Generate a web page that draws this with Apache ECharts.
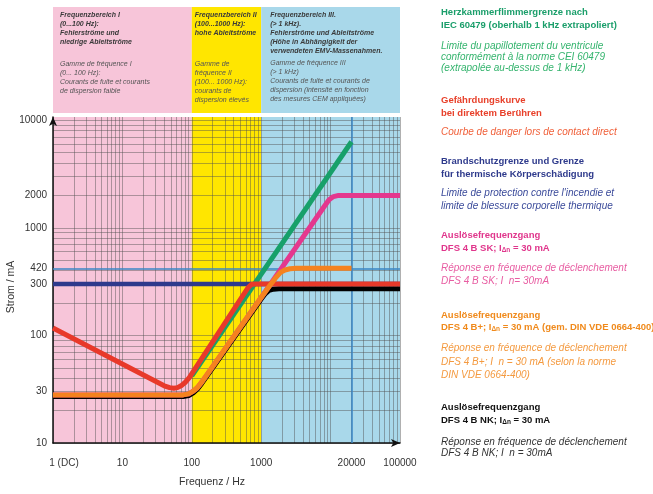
<!DOCTYPE html>
<html><head><meta charset="utf-8">
<script src="https://cdn.jsdelivr.net/npm/echarts@6/dist/echarts.min.js"></script>
<style>html,body{margin:0;padding:0;background:#fff}#c{width:653px;height:494px}</style>
</head><body><div id="c"></div>
<script>
// ---------- data ----------
const freqTicks = [1, 10, 100, 1000, 20000, 100000];
const freqTickLabels = ['1 (DC)', '10', '100', '1000', '20000', '100000'];
const currentTicks = [10, 30, 100, 300, 420, 1000, 2000, 10000];
const bandEdges = [1, 100, 1000, 100000];
const refCurrent = 420;
const refFreq = 20000;

const fibrillation = [[100, 42], [20000, 6300]];
const danger = [[1, 117], [40, 34], [48, 32.7], [55, 32.3], [62, 32.7], [70, 34], [80, 36.5], [92, 40.5], [640, 275], [720, 297], [800, 300], [100000, 300]];
const fireLimit = [[1, 300], [100000, 300]];
const dfsSK = [[1, 28], [75, 28], [90, 28.6], [105, 30.3], [120, 32.6], [140, 37], [1000, 225], [8000, 1560], [9500, 1820], [11000, 1950], [13000, 2000], [100000, 2000]];
const dfsBplus = [[1, 28], [75, 28], [90, 28.6], [105, 30.3], [120, 32.6], [140, 37], [1000, 225], [1300, 285], [1600, 340], [1900, 385], [2200, 405], [2600, 416], [3200, 420], [20000, 420]];
const dfsNK = [[1, 27], [75, 27], [90, 27.6], [105, 29.3], [120, 31.6], [140, 36], [1000, 218], [1150, 245], [1300, 262], [1500, 269], [1800, 271], [100000, 271]];

const bandColors = ['#f7c5d9', '#ffe600', '#a9d8ea'];
const headerTexts = [
  { bold: ['Frequenzbereich I', '(0...100 Hz):', 'Fehlerströme und', 'niedrige Ableitströme'], gap: 'g1',
    ital: ['Gamme de fréquence I', '(0... 100 Hz):', 'Courants de fuite et courants', 'de dispersion faible'], pad: [4, 0, 0, 7] },
  { bold: ['Frequenzbereich II', '(100...1000 Hz):', 'hohe Ableitströme'], gap: 'g2',
    ital: ['Gamme de', 'fréquence II', '(100... 1000 Hz):', 'courants de', 'dispersion élevés'], pad: [4, 0, 0, 3] },
  { bold: ['Frequenzbereich III.', '(> 1 kHz).', 'Fehlerströme und Ableitströme', '(Höhe in Abhängigkeit der', 'verwendeten EMV-Massenahmen.'], gap: 'g3',
    ital: ['Gamme de fréquence III', '(> 1 kHz)', 'Courants de fuite et courants de', 'dispersion (intensité en fonction', 'des mesures CEM appliquées)'], pad: [4, 0, 0, 9] }
];

// legend text lines: [rich text, y, color]
const legendLines = [
  ['{b|Herzkammerflimmergrenze nach}', 12, '#1a9e6a'],
  ['{b|IEC 60479 (oberhalb 1 kHz extrapoliert)}', 25, '#1a9e6a'],
  ['{i|Limite du papillotement du ventricule}', 46, '#35b46e'],
  ['{i|conformément à la norme CEI 60479}', 57, '#35b46e'],
  ['{i|(extrapolée au-dessus de 1 kHz)}', 68, '#35b46e'],
  ['{b|Gefährdungskurve}', 100, '#e8402a'],
  ['{b|bei direktem Berühren}', 113, '#e8402a'],
  ['{i|Courbe de danger lors de contact direct}', 132, '#f0603a'],
  ['{b|Brandschutzgrenze und Grenze}', 161, '#2e3a8c'],
  ['{b|für thermische Körperschädigung}', 174, '#2e3a8c'],
  ['{i|Limite de protection contre l\'incendie et}', 193, '#3a4a9a'],
  ['{i|limite de blessure corporelle thermique}', 206, '#3a4a9a'],
  ['{b|Auslösefrequenzgang}', 235, '#e0368c'],
  ['{b|DFS 4 B SK; I}{s|Δn}{b| = 30 mA}', 248, '#e0368c'],
  ['{i|Réponse en fréquence de déclenchement}', 268, '#e85da2'],
  ['{i|DFS 4 B SK; I  n= 30mA}', 281, '#e85da2'],
  ['{b|Auslösefrequenzgang}', 315, '#f08a1c'],
  ['{b|DFS 4 B+; I}{s|Δn}{b| = 30 mA (gem. DIN VDE 0664-400)}', 327, '#f08a1c'],
  ['{i|Réponse en fréquence de déclenchement}', 348, '#f49a40'],
  ['{i|DFS 4 B+; I  n = 30 mA (selon la norme}', 362, '#f49a40'],
  ['{i|DIN VDE 0664-400)}', 375, '#f49a40'],
  ['{b|Auslösefrequenzgang}', 407, '#111111'],
  ['{b|DFS 4 B NK; I}{s|Δn}{b| = 30 mA}', 420, '#111111'],
  ['{i|Réponse en fréquence de déclenchement}', 442, '#333333'],
  ['{i|DFS 4 B NK; I  n = 30mA}', 453, '#333333']
];

// ---------- chart ----------
const FF = '"Liberation Sans", Arial, sans-serif';
const gridX = []; for (let e = 0; e < 5; e++) for (let m = 1; m < 10; m++) gridX.push(m * Math.pow(10, e)); gridX.push(100000);
const gridY = []; for (let e = 1; e < 4; e++) for (let m = 1; m < 10; m++) gridY.push(m * Math.pow(10, e)); gridY.push(10000);

function nearestLabel(v, ticks, labels) {
  let best = 0, bd = Infinity;
  ticks.forEach((t, i) => { const d = Math.abs(Math.log10(v) - Math.log10(t)); if (d < bd) { bd = d; best = i; } });
  return labels[best];
}

const headerAreas = headerTexts.map((h, k) => {
  const txt = h.bold.map(s => '{b|' + s + '}').join('\n') + '\n{' + h.gap + '| }\n' + h.ital.map(s => '{i|' + s + '}').join('\n');
  return [{
    xAxis: bandEdges[k], itemStyle: { color: bandColors[k] },
    label: { show: true, position: 'insideTopLeft', distance: 0, padding: h.pad, formatter: txt,
      rich: {
        b: { fontFamily: FF, fontSize: 7, fontWeight: 'bold', fontStyle: 'italic', color: '#3a3a3a', lineHeight: 9 },
        i: { fontFamily: FF, fontSize: 7, fontStyle: 'italic', color: '#555', lineHeight: 9 },
        g1: { fontSize: 1, lineHeight: 13 }, g2: { fontSize: 1, lineHeight: 22 }, g3: { fontSize: 1, lineHeight: 3 }
      } }
  }, { xAxis: bandEdges[k + 1] }];
});

const bandAreas = bandColors.map((c, k) => [{ xAxis: bandEdges[k], itemStyle: { color: c } }, { xAxis: bandEdges[k + 1] }]);

const graphics = legendLines.map(([t, y, col]) => {
  const rich = {
    b: { fontFamily: FF, fontSize: 9.5, fontWeight: 'bold', fill: col },
    i: { fontFamily: FF, fontSize: 10, fontStyle: 'italic', fill: col },
    s: { fontFamily: FF, fontSize: 6.5, fontWeight: 'bold', fill: col, verticalAlign: 'bottom', padding: [4, 0, 0, 0] }
  };
  return { type: 'text', x: 441, y: y, silent: true,
    style: { text: t, rich: rich, verticalAlign: 'middle', align: 'left' } };
});

function curve(name, data, color, z, width) {
  return { name, type: 'line', data, xAxisIndex: 0, yAxisIndex: 0, showSymbol: false, symbol: 'none',
    smooth: false, z, lineStyle: { color, width: width || 5, join: 'round' }, silent: true };
}

const option = {
  animation: false,
  backgroundColor: '#fff',
  grid: [
    { left: 53, width: 347, top: 117, height: 326, containLabel: false, outerBoundsMode: 'none' },
    { left: 53, width: 347, top: 7, height: 106, containLabel: false, outerBoundsMode: 'none' }
  ],
  xAxis: [
    { type: 'log', logBase: 10, min: 1, max: 100000, gridIndex: 0, z: 3,
      name: 'Frequenz / Hz', nameLocation: 'middle', nameGap: 34, nameMoveOverlap: false,
      nameTextStyle: { fontFamily: FF, fontSize: 10.5, color: '#333', padding: [0, 29, 0, 0] },
      axisLine: { show: true, onZero: false, lineStyle: { color: '#111', width: 1.5 }, symbol: ['none', 'arrow'], symbolSize: [6, 9] },
      axisTick: { show: false, customValues: gridX },
      axisLabel: { customValues: freqTicks, fontFamily: FF, fontSize: 10, color: '#333', margin: 15,
        formatter: v => { const l = nearestLabel(v, freqTicks, freqTickLabels); return l === '1 (DC)' ? '{a|' + l + '}' : l; },
        rich: { a: { fontFamily: FF, fontSize: 10, color: '#333', padding: [0, 0, 0, 22] } } },
      splitLine: { show: true, lineStyle: { color: 'rgba(80,80,80,0.45)', width: 1 } }
    },
    { type: 'log', logBase: 10, min: 1, max: 100000, gridIndex: 1, show: false }
  ],
  yAxis: [
    { type: 'log', logBase: 10, min: 10, max: 10700, gridIndex: 0, z: 3,
      name: 'Strom / mA', nameLocation: 'middle', nameGap: 36, nameMoveOverlap: false,
      nameTextStyle: { fontFamily: FF, fontSize: 10.5, color: '#333', padding: [0, 14, 0, 0] },
      axisLine: { show: true, onZero: false, lineStyle: { color: '#111', width: 1.5 }, symbol: ['none', 'arrow'], symbolSize: [6, 9] },
      axisTick: { show: false, customValues: gridY },
      axisLabel: { customValues: currentTicks, fontFamily: FF, fontSize: 10, color: '#333', margin: 6,
        formatter: v => nearestLabel(v, currentTicks, currentTicks.map(String)) },
      splitLine: { show: true, lineStyle: { color: 'rgba(80,80,80,0.45)', width: 1 } }
    },
    { type: 'value', min: 0, max: 1, gridIndex: 1, show: false }
  ],
  graphic: graphics,
  series: [
    { type: 'line', xAxisIndex: 0, yAxisIndex: 0, data: [[1, 10]], symbol: 'none', lineStyle: { opacity: 0 }, z: 1, silent: true,
      markArea: { silent: true, data: bandAreas } },
    { type: 'line', xAxisIndex: 1, yAxisIndex: 1, data: [[1, 0]], symbol: 'none', lineStyle: { opacity: 0 }, z: 1, silent: true,
      markArea: { silent: true, data: headerAreas } },
    { type: 'line', xAxisIndex: 0, yAxisIndex: 0, data: [[1, 10]], symbol: 'none', lineStyle: { opacity: 0 }, z: 4, silent: true,
      markLine: { silent: true, symbol: 'none', label: { show: false }, animation: false,
        lineStyle: { color: '#3a86c4', width: 1.5, type: 'solid' },
        data: [{ yAxis: refCurrent }, { xAxis: refFreq }] } },
    curve('Brandschutzgrenze', fireLimit, '#2e3a8c', 5, 4.5),
    curve('Herzkammerflimmergrenze', fibrillation, '#17a06a', 6, 5),
    curve('DFS 4 B NK', dfsNK, '#000000', 7, 5),
    curve('DFS 4 B SK', dfsSK, '#e4388e', 8, 5),
    curve('Gefährdungskurve', danger, '#e8392a', 9, 5),
    curve('DFS 4 B+', dfsBplus, '#f5821f', 10, 5)
  ]
};
const chart = echarts.init(document.getElementById('c'));
chart.setOption(option);
</script>
</body></html>
